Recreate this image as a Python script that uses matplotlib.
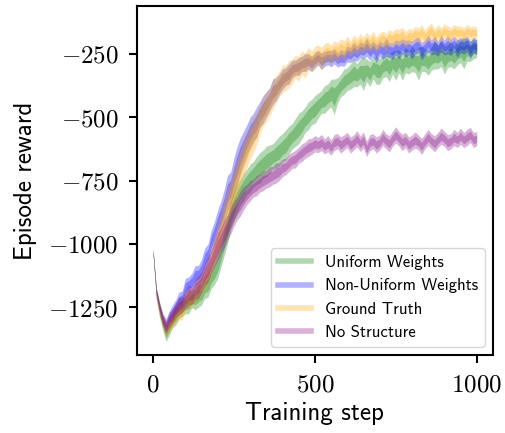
import numpy as np
import matplotlib
matplotlib.use('Agg')
import matplotlib.pyplot as plt
from matplotlib.ticker import FuncFormatter

# training steps (every 10 steps)
steps = np.arange(0, 1001, 10)

labels = ['Uniform Weights', 'Non-Uniform Weights', 'Ground Truth', 'No Structure']
colors = ['green', 'blue', 'orange', 'purple']

# mean episode reward
uniform_mean = [-1030, -1200, -1265, -1315, -1355, -1330, -1300, -1285, -1265, -1250,
                -1240, -1235, -1215, -1220, -1205, -1200, -1170, -1160, -1130, -1110,
                -1080, -1040, -990, -940, -890, -850, -820, -795, -775, -755,
                -740, -725, -710, -700, -685, -675, -665, -655, -645, -635,
                -620, -610, -590, -575, -560, -545, -530, -510, -495, -480,
                -470, -455, -440, -430, -420, -405, -420, -395, -375, -360,
                -350, -340, -325, -335, -320, -330, -315, -330, -305, -315,
                -320, -300, -290, -305, -285, -295, -280, -300, -275, -285,
                -270, -280, -290, -270, -275, -285, -270, -255, -265, -250,
                -275, -260, -250, -265, -245, -240, -250, -235, -240, -230,
                -230]
nonuniform_mean = [-1030, -1185, -1250, -1295, -1320, -1290, -1270, -1250, -1225, -1215,
                   -1170, -1160, -1150, -1125, -1120, -1100, -1060, -1040, -990, -960,
                   -920, -890, -850, -800, -780, -730, -690, -650, -620, -590,
                   -560, -540, -520, -490, -470, -450, -430, -400, -390, -370,
                   -350, -340, -330, -310, -305, -300, -290, -285, -280, -290,
                   -275, -265, -280, -270, -265, -270, -260, -275, -265, -270,
                   -250, -255, -240, -250, -235, -240, -225, -245, -230, -250,
                   -230, -240, -225, -235, -240, -225, -235, -220, -230, -225,
                   -235, -220, -215, -240, -225, -210, -225, -215, -230, -210,
                   -225, -215, -225, -210, -230, -215, -220, -210, -235, -215,
                   -225]
truth_mean = [-1030, -1195, -1255, -1305, -1340, -1315, -1300, -1280, -1265, -1260,
              -1225, -1215, -1220, -1190, -1180, -1160, -1135, -1110, -1070, -1030,
              -990, -950, -905, -860, -820, -780, -740, -700, -660, -630,
              -600, -570, -545, -510, -480, -460, -440, -410, -390, -370,
              -350, -345, -330, -320, -300, -310, -285, -295, -270, -280,
              -265, -255, -270, -250, -240, -255, -235, -245, -225, -240,
              -215, -230, -210, -220, -205, -215, -200, -210, -195, -215,
              -200, -190, -205, -185, -195, -180, -190, -175, -195, -180,
              -185, -170, -180, -165, -185, -170, -160, -180, -165, -175,
              -160, -170, -175, -160, -170, -165, -175, -160, -170, -165,
              -170]
nostruct_mean = [-1030, -1190, -1250, -1300, -1330, -1300, -1285, -1260, -1245, -1240,
                 -1220, -1200, -1205, -1180, -1170, -1150, -1120, -1100, -1070, -1040,
                 -1010, -985, -960, -935, -905, -880, -860, -840, -820, -805,
                 -790, -780, -770, -760, -750, -745, -735, -730, -720, -715,
                 -700, -695, -680, -670, -665, -650, -640, -630, -620, -615,
                 -605, -610, -600, -615, -605, -620, -600, -595, -610, -600,
                 -590, -610, -600, -585, -605, -590, -625, -600, -595, -610,
                 -600, -580, -595, -605, -585, -570, -585, -600, -590, -610,
                 -600, -590, -600, -615, -595, -580, -595, -605, -590, -575,
                 -585, -600, -595, -580, -590, -575, -590, -580, -570, -590,
                 -585]

# half-width of the shaded band
uniform_spread = [10, 20, 25, 25, 30, 30, 30, 35, 30, 35,
                  35, 40, 35, 40, 45, 40, 45, 50, 45, 50,
                  55, 50, 55, 60, 55, 60, 55, 50, 55, 50,
                  55, 50, 55, 60, 55, 60, 55, 50, 55, 60,
                  55, 60, 55, 50, 55, 60, 55, 50, 55, 50,
                  55, 50, 45, 55, 50, 55, 70, 50, 45, 50,
                  45, 50, 55, 45, 50, 65, 45, 50, 45, 55,
                  50, 45, 50, 55, 45, 60, 45, 55, 50, 45,
                  50, 45, 65, 50, 45, 50, 45, 55, 45, 50,
                  55, 45, 50, 45, 50, 45, 60, 45, 40, 40,
                  35]
nonuniform_spread = [10, 15, 20, 20, 25, 25, 30, 30, 35, 30,
                     35, 30, 35, 40, 35, 40, 45, 40, 45, 50,
                     55, 60, 65, 70, 65, 70, 75, 70, 65, 60,
                     60, 55, 60, 50, 55, 50, 45, 50, 45, 40,
                     40, 35, 40, 35, 30, 35, 30, 35, 30, 30,
                     30, 28, 32, 30, 28, 32, 30, 28, 32, 30,
                     32, 30, 35, 30, 32, 30, 35, 32, 30, 35,
                     30, 32, 35, 30, 32, 30, 35, 30, 32, 30,
                     35, 32, 30, 35, 30, 32, 30, 35, 30, 32,
                     30, 35, 32, 30, 35, 30, 32, 30, 35, 30,
                     30]
truth_spread = [10, 20, 25, 25, 30, 30, 35, 30, 35, 40,
                35, 40, 35, 40, 45, 40, 45, 50, 55, 60,
                65, 70, 75, 80, 75, 80, 75, 70, 75, 70,
                65, 70, 65, 60, 55, 60, 55, 60, 55, 50,
                55, 50, 55, 50, 45, 50, 45, 50, 45, 40,
                45, 40, 45, 40, 35, 40, 35, 40, 35, 40,
                35, 30, 35, 30, 35, 30, 35, 30, 35, 30,
                32, 30, 35, 30, 32, 30, 35, 30, 32, 30,
                30, 28, 32, 30, 28, 30, 32, 28, 30, 28,
                28, 30, 28, 26, 28, 26, 28, 26, 25, 25,
                25]
nostruct_spread = [10, 15, 20, 25, 25, 30, 30, 30, 35, 30,
                   35, 40, 35, 40, 45, 40, 45, 50, 45, 50,
                   55, 50, 55, 50, 55, 50, 45, 50, 45, 40,
                   40, 35, 40, 35, 40, 35, 40, 35, 40, 35,
                   35, 32, 35, 32, 35, 32, 35, 32, 35, 32,
                   32, 30, 32, 30, 32, 30, 32, 30, 32, 30,
                   30, 32, 30, 32, 30, 32, 30, 32, 30, 32,
                   30, 32, 30, 32, 30, 32, 30, 32, 30, 32,
                   30, 32, 30, 32, 30, 32, 30, 32, 30, 32,
                   30, 32, 30, 32, 30, 32, 30, 32, 30, 30,
                   28]

means = [uniform_mean, nonuniform_mean, truth_mean, nostruct_mean]
spreads = [uniform_spread, nonuniform_spread, truth_spread, nostruct_spread]

plt.rcParams['mathtext.fontset'] = 'cm'
plt.rcParams['font.family'] = ['cmss10', 'DejaVu Sans']

fig, ax = plt.subplots(figsize=(5.05, 4.33), dpi=100)
fig.subplots_adjust(left=0.271, right=0.976, bottom=0.18, top=0.986)

for name, m, s, c in zip(labels, means, spreads, colors):
    m = np.array(m, dtype=float)
    s = np.array(s, dtype=float)
    # outer band and darker inner band
    ax.fill_between(steps, m - s, m + s, color=c, alpha=0.3, lw=0)
    ax.fill_between(steps, m - s / 2, m + s / 2, color=c, alpha=0.3, lw=0)
    ax.plot([], [], color=c, alpha=0.3, lw=4, label=name)

ax.set_xlim(-50, 1050)
ax.set_ylim(-1438, -62)
ax.set_xticks([0, 500, 1000])
ax.set_yticks([-1250, -1000, -750, -500, -250])
# computer modern numbers for the ticks
fmt = FuncFormatter(lambda v, pos: r'$\mathrm{%d}$' % v)
ax.xaxis.set_major_formatter(fmt)
ax.yaxis.set_major_formatter(fmt)
ax.tick_params(labelsize=18, length=6, width=1.5, pad=7)
for sp in ax.spines.values():
    sp.set_linewidth(1.5)

ax.set_xlabel('Training step', fontsize=18, labelpad=4)
ax.set_ylabel('Episode reward', fontsize=18, labelpad=8)
ax.legend(loc='lower right', fontsize=12)

plt.savefig('out.png', dpi=100)
